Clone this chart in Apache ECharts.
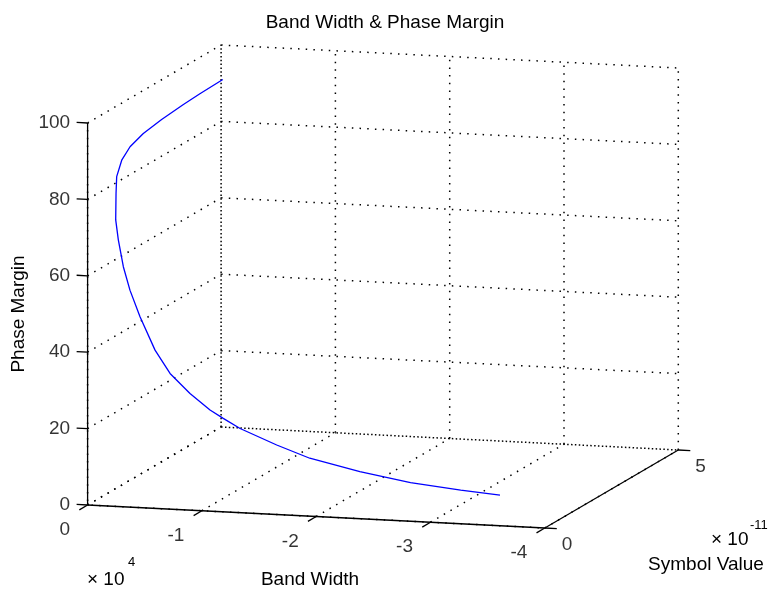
<!DOCTYPE html>
<html>
<head>
<meta charset="utf-8">
<script src="https://cdn.jsdelivr.net/npm/echarts@6/dist/echarts.min.js"></script>
<style>
  html, body { margin: 0; padding: 0; background: #ffffff; }
  #chart { width: 772px; height: 590px; }
</style>
</head>
<body>
<div id="chart"></div>
<script>
// Sweep of the symbol value: resulting band width and phase margin
const bandWidth   = [-150, -177, -205, -263, -353, -484, -661, -944, -1299, -1408, -1941, -2576, -3282,
                     -4271, -5675, -7038, -8828, -10610, -11780, -13270, -16495, -19400, -23800, -28240,
                     -32640, -36080];
const symbolValue = [5.0e-11, 4.13e-11, 3.5e-11, 2.66e-11, 1.935e-11, 1.383e-11, 0.995e-11, 0.685e-11,
                     0.509e-11, 0.45e-11, 0.32e-11, 0.236e-11, 0.181e-11, 0.1347e-11, 0.0968e-11,
                     0.0745e-11, 0.0557e-11, 0.0433e-11, 0.0372e-11, 0.031e-11, 0.0214e-11, 0.0155e-11,
                     0.0093e-11, 0.005e-11, 0.0019e-11, 0];
const phaseMargin = [91.0, 90.8, 90.6, 90.1, 89.4, 88.2, 86.3, 83.3, 79.7, 73.0, 68.4, 61.8, 56.0, 49.4,
                     41.0, 35.2, 30.3, 26.3, 24.3, 21.9, 18.1, 15.1, 12.3, 10.1, 8.8, 8.0];

// Axis ranges, ticks and tick labels
const bwRange = [0, -4e4];
const svRange = [0, 5e-11];
const pmRange = [0, 100];
const bwTicks = [0, -1e4, -2e4, -3e4, -4e4];
const bwTickLabels = ['0', '-1', '-2', '-3', '-4'];
const svTicks = [0, 5e-11];
const svTickLabels = ['0', '5'];
const pmTicks = [0, 20, 40, 60, 80, 100];
const pmTickLabels = ['0', '20', '40', '60', '80', '100'];

// Oblique view of the axes box: screen point of the (bw=0, sv=0, pm=0) corner
// and the screen displacement produced by each axis' full range.
const view = {
  origin: [87.6, 505],
  bwSpan: [457.2, 23],
  svSpan: [133.5, -78],
  pmSpan: [0, -382]
};

function project(bw, sv, pm) {
  const u = (bw - bwRange[0]) / (bwRange[1] - bwRange[0]);
  const v = (sv - svRange[0]) / (svRange[1] - svRange[0]);
  const w = (pm - pmRange[0]) / (pmRange[1] - pmRange[0]);
  return [
    view.origin[0] + u * view.bwSpan[0] + v * view.svSpan[0] + w * view.pmSpan[0],
    view.origin[1] + u * view.bwSpan[1] + v * view.svSpan[1] + w * view.pmSpan[1]
  ];
}

const FONT = 'Liberation Sans, Arial, Helvetica, sans-serif';
const bwMin = bwRange[1], bwMax = bwRange[0];
const svMin = svRange[0], svMax = svRange[1];
const pmMin = pmRange[0], pmMax = pmRange[1];

const series = [];

// dotted grid segment
function gridSeg(a, b, offset) {
  series.push({
    type: 'line', silent: true, symbol: 'none', animation: false, z: 1,
    data: [project(...a), project(...b)],
    lineStyle: { color: '#000', width: 1.5, type: [1.5, 6.2], dashOffset: offset || 0 }
  });
}
// solid segment (axes and tick marks)
function solidSeg(a, b) {
  series.push({
    type: 'line', silent: true, symbol: 'none', animation: false, z: 3,
    data: [project(...a), project(...b)],
    lineStyle: { color: '#000', width: 1.3, type: 'solid' }
  });
}

// back wall (sv = max)
bwTicks.forEach(t => gridSeg([t, svMax, pmMin], [t, svMax, pmMax], 0));
pmTicks.forEach(t => gridSeg([bwMax, svMax, t], [bwMin, svMax, t], 0));
// side wall (bw = 0)
pmTicks.forEach(t => gridSeg([bwMax, svMin, t], [bwMax, svMax, t], 0));
svTicks.forEach(t => gridSeg([bwMax, t, pmMin], [bwMax, t, pmMax], 3.8));
// floor (pm = 0)
bwTicks.forEach(t => gridSeg([t, svMin, pmMin], [t, svMax, pmMin], 0));
svTicks.forEach(t => gridSeg([bwMax, t, pmMin], [bwMin, t, pmMin], 3.8));

// axis lines
solidSeg([bwMax, svMin, pmMin], [bwMax, svMin, pmMax]);
solidSeg([bwMax, svMin, pmMin], [bwMin, svMin, pmMin]);
solidSeg([bwMin, svMin, pmMin], [bwMin, svMax, pmMin]);

// tick marks
const pmTickLen = 960;        // along +band width
const bwTickLen = 0.31e-11;   // along -symbol value
const svTickLen = 1050;       // along -band width
pmTicks.forEach(t => solidSeg([bwMax, svMin, t], [bwMax + pmTickLen, svMin, t]));
bwTicks.forEach(t => solidSeg([t, svMin, pmMin], [t, svMin - bwTickLen, pmMin]));
svTicks.forEach(t => solidSeg([bwMin, t, pmMin], [bwMin - svTickLen, t, pmMin]));

// the sweep curve
series.push({
  type: 'line', silent: true, symbol: 'none', animation: false, z: 5,
  data: bandWidth.map((b, i) => project(b, symbolValue[i], phaseMargin[i])),
  lineStyle: { color: '#0000ff', width: 1.3 }
});

// tick labels
function tickLabels(points, names, labelOpt) {
  series.push({
    type: 'scatter', silent: true, animation: false, symbolSize: 0, z: 6,
    data: points.map((p, i) => ({ name: names[i], value: p })),
    label: Object.assign({
      show: true, formatter: '{b}', color: '#000', fontFamily: FONT, fontSize: 19
    }, labelOpt)
  });
}
tickLabels(pmTicks.map(t => project(bwMax, svMin, t)), pmTickLabels,
  { position: 'left', distance: 17.5, align: 'right', verticalAlign: 'middle' });
tickLabels(bwTicks.map(t => project(t, svMin, pmMin)), bwTickLabels,
  { position: [-17.5, 25], align: 'right', verticalAlign: 'middle' });
tickLabels(svTicks.map(t => project(bwMin, t, pmMin)), svTickLabels,
  { position: [17, 17], align: 'left', verticalAlign: 'middle' });

const textStyle = (extra) => Object.assign({ fill: '#000', font: '19px ' + FONT }, extra);

const option = {
  backgroundColor: '#ffffff',
  animation: false,
  title: {
    text: 'Band Width & Phase Margin',
    left: 380, top: 8, textAlign: 'center',
    textStyle: { fontFamily: FONT, fontSize: 19, fontWeight: 'normal', color: '#000' }
  },
  grid: { left: 0, right: 0, top: 0, bottom: 0 },
  xAxis: { type: 'value', min: 0, max: 772, show: false },
  yAxis: { type: 'value', min: 0, max: 590, inverse: true, show: false },
  series: series,
  graphic: [
    { type: 'text', x: 19, y: 314, rotation: Math.PI / 2,
      style: textStyle({ text: 'Phase Margin', textAlign: 'center', textVerticalAlign: 'middle' }) },
    { type: 'text', x: 310, y: 580,
      style: textStyle({ text: 'Band Width', textAlign: 'center', textVerticalAlign: 'middle' }) },
    { type: 'text', x: 706, y: 565,
      style: textStyle({ text: 'Symbol Value', textAlign: 'center', textVerticalAlign: 'middle' }) },
    { type: 'text', x: 87, y: 580,
      style: textStyle({ text: '× 10', textAlign: 'left', textVerticalAlign: 'middle' }) },
    { type: 'text', x: 128, y: 562,
      style: textStyle({ text: '4', font: '13px ' + FONT, textAlign: 'left', textVerticalAlign: 'middle' }) },
    { type: 'text', x: 711, y: 540,
      style: textStyle({ text: '× 10', textAlign: 'left', textVerticalAlign: 'middle' }) },
    { type: 'text', x: 750, y: 525,
      style: textStyle({ text: '-11', font: '13px ' + FONT, textAlign: 'left', textVerticalAlign: 'middle' }) }
  ]
};

const chart = echarts.init(document.getElementById('chart'), null, { renderer: 'canvas' });
chart.setOption(option);
</script>
</body>
</html>
